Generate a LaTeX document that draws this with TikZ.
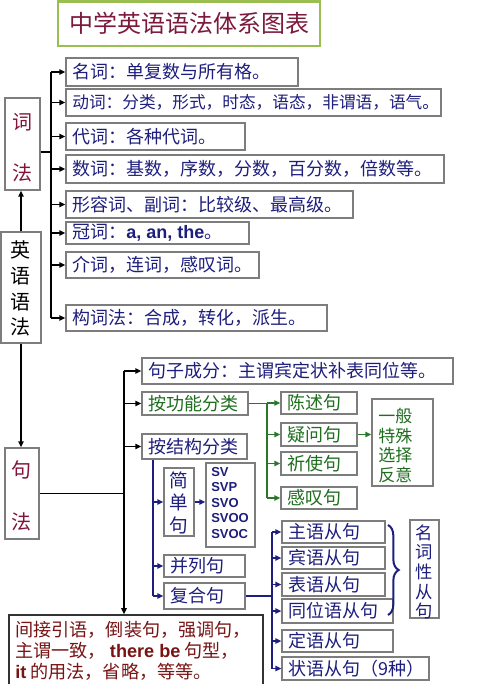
\documentclass[tikz,border=0pt]{standalone}
\usepackage{fontspec}
\newfontfamily\cjk{Noto Sans CJK SC}
\newfontfamily\arialf{Liberation Sans}
\usetikzlibrary{fit,arrows.meta,decorations.pathreplacing}
\definecolor{navy}{RGB}{30,30,125}
\definecolor{titlegreen}{RGB}{155,190,80}
\definecolor{titlered}{RGB}{125,25,60}
\definecolor{darkred}{RGB}{130,20,55}
\definecolor{brownred}{RGB}{120,20,20}
\definecolor{gtext}{RGB}{30,110,30}
\definecolor{gline}{RGB}{40,120,40}
\definecolor{boxgray}{RGB}{125,125,125}
\tikzset{
  bx/.style={draw=boxgray, line width=0.9pt, inner sep=0pt, fill=white},
  tx/.style={anchor=west, inner sep=0pt, font=\cjk\fontsize{13.5}{16}\selectfont, text=navy},
  gtx/.style={tx, text=gtext},
  vt/.style={inner sep=0pt, font=\cjk\fontsize{15}{18}\selectfont},
  conn/.style={line width=1.3pt, black},
  arr/.style={conn, -{Triangle[length=4.5pt,width=4pt]}},
  garr/.style={line width=1.3pt, gline, -{Triangle[length=4.5pt,width=4pt]}},
  gcon/.style={line width=1.3pt, gline},
  barr/.style={line width=1.3pt, navy, -{Triangle[length=4.5pt,width=4pt]}},
  bcon/.style={line width=1.3pt, navy},
}
\begin{document}
\begin{tikzpicture}[x=0.75pt, y=-0.75pt]
\useasboundingbox (0,0) rectangle (479,684);
\fill[white] (0,0) rectangle (479,684);

% title
\node[fit={(58,1.5)(320,46)}, draw=titlegreen, line width=1.6pt, inner sep=0pt] (title) {};
\node[inner sep=0pt, font=\cjk\fontsize{18}{20}\selectfont, text=titlered] (titlet) at (title.center) {中学英语语法体系图表};

% left column boxes
\node[bx, fit={(5,98)(40,190)}] (cifa) {};
\node[vt, text=darkred] (cifa1) at (22.5,122) {词};
\node[vt, text=darkred] (cifa2) at (22.5,173) {法};

\node[bx, fit={(1,232)(41,343)}] (yyf) {};
\node[vt, text=black] (yyf1) at (21,250) {英};
\node[vt, text=black] (yyf2) at (21,276) {语};
\node[vt, text=black] (yyf3) at (21,302) {语};
\node[vt, text=black] (yyf4) at (21,327) {法};

\node[bx, fit={(5,448)(39,539)}] (jufa) {};
\node[vt, text=darkred] (jufa1) at (22,470) {句};
\node[vt, text=darkred] (jufa2) at (22,522) {法};

% word-level boxes
\node[bx, fit={(66,58)(298,86)}] (b1) {};
\node[tx] (b1t) at ([xshift=5pt]b1.west) {名词：单复数与所有格。};
\node[bx, fit={(66,89)(441,116)}] (b2) {};
\node[tx, font=\cjk\fontsize{12.5}{15}\selectfont] (b2t) at ([xshift=5pt]b2.west) {动词：分类，形式，时态，语态，非谓语，语气。};
\node[bx, fit={(66,123)(245,150)}] (b3) {};
\node[tx] (b3t) at ([xshift=5pt]b3.west) {代词：各种代词。};
\node[bx, fit={(66,155)(444,183)}] (b4) {};
\node[tx] (b4t) at ([xshift=5pt]b4.west) {数词：基数，序数，分数，百分数，倍数等。};
\node[bx, fit={(66,191)(353,218)}] (b5) {};
\node[tx] (b5t) at ([xshift=5pt]b5.west) {形容词、副词：比较级、最高级。};
\node[bx, fit={(66,222)(249,244)}] (b6) {};
\node[tx] (b6t) at ([xshift=5pt]b6.west) {冠词：{\arialf\bfseries a, an, the}。};
\node[bx, fit={(66,252)(259,278)}] (b7) {};
\node[tx] (b7t) at ([xshift=5pt]b7.west) {介词，连词，感叹词。};
\node[bx, fit={(66,305)(327,331)}] (b8) {};
\node[tx] (b8t) at ([xshift=5pt]b8.west) {构词法：合成，转化，派生。};

% word-level connectors
\coordinate (bus1) at (51,0);
\coordinate (y152) at (0,152);
\draw[conn] (cifa.east |- y152) -- (bus1 |- y152);
\draw[conn] (bus1 |- b1.west) -- (bus1 |- b8.west);
\foreach \b in {b1,b2,b3,b4,b5,b6,b7,b8}
  \draw[arr] (bus1 |- \b.west) -- (\b.west);

\draw[arr] (yyf.north) -- (yyf.north |- cifa.south);
\draw[arr] (yyf.south) -- (yyf.south |- jufa.north);

% sentence-level boxes
\node[bx, fit={(142,358)(453,384)}] (s1) {};
\node[tx] (s1t) at ([xshift=5pt]s1.west) {句子成分：主谓宾定状补表同位等。};
\node[bx, fit={(142,392)(248,415)}] (s2) {};
\node[gtx] (s2t) at ([xshift=5pt]s2.west) {按功能分类};
\node[bx, fit={(142,434)(247,459)}] (s3) {};
\node[tx] (s3t) at ([xshift=5pt]s3.west) {按结构分类};

% bottom box
\node[fit={(9,615)(263,686)}, draw=black!80, line width=1.2pt, inner sep=0pt, fill=white] (bot) {};
\node[anchor=north west, inner sep=0pt, align=left, text=brownred,
      font=\cjk\fontsize{13.6}{15.75}\selectfont] (bott) at (15,621)
  {间接引语，倒装句，强调句，\\
   主谓一致， {\arialf\bfseries there be} 句型，\\
   {\arialf\bfseries it} 的用法，省略，等等。};

% sentence-level connectors
\coordinate (bus2) at (124,0);
\draw[conn] (jufa.east) -- (bus2 |- jufa.east);
\draw[conn] (bus2 |- s1.west) -- (bus2 |- s3.west);
\draw[arr] (bus2 |- s3.west) -- (bus2 |- bot.north);
\foreach \b in {s1,s2,s3}
  \draw[arr] (bus2 |- \b.west) -- (\b.west);

% function tree (green)
\node[bx, fit={(281,392)(357,414)}] (g1) {};
\node[gtx] (g1t) at ([xshift=5pt]g1.west) {陈述句};
\node[bx, fit={(281,423)(357,446)}] (g2) {};
\node[gtx] (g2t) at ([xshift=5pt]g2.west) {疑问句};
\node[bx, fit={(281,452)(357,475)}] (g3) {};
\node[gtx] (g3t) at ([xshift=5pt]g3.west) {祈使句};
\node[bx, fit={(281,487)(357,509)}] (g4) {};
\node[gtx] (g4t) at ([xshift=5pt]g4.west) {感叹句};
\node[bx, fit={(372,399)(433,486)}] (g5) {};
\node[anchor=north west, inner sep=0pt, align=left, text=gtext,
      font=\cjk\fontsize{12.75}{14.6}\selectfont] (g5t) at (378,408)
  {一般\\特殊\\选择\\反意};

\coordinate (bus3) at (267,0);
\draw[gcon] (s2.east) -- (bus3 |- s2.east);
\draw[gcon] (bus3 |- g1.west) -- (bus3 |- g4.west);
\foreach \b in {g1,g2,g3,g4}
  \draw[garr] (bus3 |- \b.west) -- (\b.west);
\draw[garr] (g2.east) -- (g5.west |- g2.east);

% structure tree (navy)
\node[bx, fit={(164,468)(194,536)}] (k1) {};
\node[vt, text=navy, font=\cjk\fontsize{14}{16}\selectfont] (k1a) at (179,480) {简};
\node[vt, text=navy, font=\cjk\fontsize{14}{16}\selectfont] (k1b) at (179,502) {单};
\node[vt, text=navy, font=\cjk\fontsize{14}{16}\selectfont] (k1c) at (179,525) {句};
\node[bx, fit={(206,463)(255,547)}] (sv) {};
\node[anchor=north west, inner sep=0pt, align=left, text=navy,
      font=\arialf\bfseries\fontsize{9.75}{11.6}\selectfont] (svt) at (211,467)
  {SV\\SVP\\SVO\\SVOO\\SVOC};
\node[bx, fit={(164,555)(245,577)}] (k2) {};
\node[tx] (k2t) at ([xshift=5pt]k2.west) {并列句};
\node[bx, fit={(164,583)(245,609)}] (k3) {};
\node[tx] (k3t) at ([xshift=5pt]k3.west) {复合句};

\coordinate (bus4) at (153,0);
\draw[bcon] (bus4 |- s3.south) -- (bus4 |- k3.west);
\foreach \b in {k1,k2,k3}
  \draw[barr] (bus4 |- \b.west) -- (\b.west);
\draw[barr] (k1.east) -- (sv.west |- k1.east);

% clause boxes
\node[bx, fit={(282,521)(385,543)}] (c1) {};
\node[tx] (c1t) at ([xshift=5pt]c1.west) {主语从句};
\node[bx, fit={(282,547)(385,569)}] (c2) {};
\node[tx] (c2t) at ([xshift=5pt]c2.west) {宾语从句};
\node[bx, fit={(282,573)(385,596)}] (c3) {};
\node[tx] (c3t) at ([xshift=5pt]c3.west) {表语从句};
\node[bx, fit={(282,599)(393,623)}] (c4) {};
\node[tx] (c4t) at ([xshift=5pt]c4.west) {同位语从句};
\node[bx, fit={(282,630)(393,652)}] (c5) {};
\node[tx] (c5t) at ([xshift=5pt]c5.west) {定语从句};
\node[bx, fit={(282,657)(429,680)}] (c6) {};
\node[tx] (c6t) at ([xshift=5pt]c6.west) {状语从句（9种）};

\coordinate (bus5) at (272,0);
\draw[bcon] (k3.east) -- (bus5 |- k3.east);
\draw[bcon] (bus5 |- c1.west) -- (bus5 |- c6.west);
\foreach \b in {c1,c2,c3,c4,c5,c6}
  \draw[barr] (bus5 |- \b.west) -- (\b.west);

% brace and noun clause box
\draw[navy, line width=1.5pt, decorate, decoration={brace, amplitude=8pt}]
  (388,525) -- (388,615);
\node[bx, fit={(410,520)(439,618)}] (nm) {};
\foreach \c/\yy [count=\i] in {名/533,词/552,性/572,从/592,句/611}
  \node[vt, text=navy, font=\cjk\fontsize{13}{15}\selectfont] (nm\i) at (424.5,\yy) {\c};
\end{tikzpicture}
\end{document}
